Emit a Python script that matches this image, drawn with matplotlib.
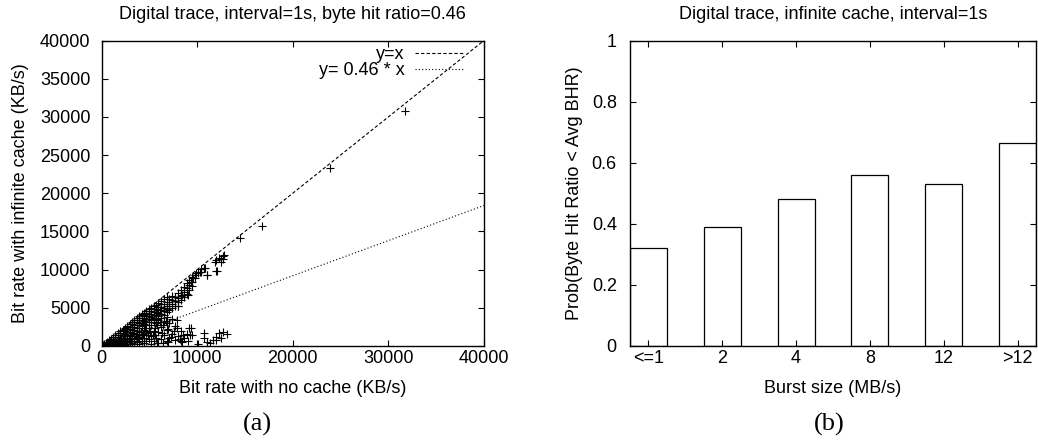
import matplotlib
matplotlib.use("Agg")
import matplotlib.pyplot as plt
import numpy as np

plt.rcParams['font.family'] = ['Liberation Sans', 'DejaVu Sans']

# ---------------- data: (a) scatter ----------------
no_cache_kbs = [
    150, 150,
    300, 300, 300,
    450, 450, 450,
    600, 600, 600, 600,
    800, 800, 800, 800,
    1000, 1000, 1000, 1000, 1000,
    1200, 1200, 1200, 1200, 1200,
    1450, 1450, 1450, 1450, 1450, 1450,
    1700, 1700, 1700, 1700, 1700, 1700,
    1950, 1950, 1950, 1950, 1950, 1950, 1950,
    2200, 2200, 2200, 2200, 2200, 2200, 2200,
    2450, 2450, 2450, 2450, 2450, 2450, 2450, 2450,
    2700, 2700, 2700, 2700, 2700, 2700, 2700, 2700,
    2950, 2950, 2950, 2950, 2950, 2950, 2950, 2950,
    3200, 3200, 3200, 3200, 3200, 3200, 3200, 3200,
    3450, 3450, 3450, 3450, 3450, 3450, 3450, 3450,
    3700, 3700, 3700, 3700, 3700, 3700, 3700, 3700,
    3950, 3950, 3950, 3950, 3950, 3950, 3950, 3950, 3950,
    4200, 4200, 4200, 4200, 4200, 4200, 4200, 4200,
    4450, 4450, 4450, 4450, 4450, 4450, 4450, 4450,
    4700, 4700, 4700, 4700, 4700, 4700, 4700, 4700,
    4950, 4950, 4950, 4950, 4950, 4950, 4950, 4950,
    5200, 5200, 5200, 5200, 5200, 5200, 5200, 5200,
    5450, 5450, 5450, 5450, 5450, 5450, 5450, 5450,
    5700, 5700, 5700, 5700, 5700, 5700, 5700,
    5950, 5950, 5950, 5950, 5950, 5950, 5950, 5950,
    6200, 6200, 6200, 6200, 6200, 6200, 6200, 6200,
    6500, 6500, 6500, 6500, 6500, 6500, 6500,
    6800, 6800, 6800, 6800, 6800, 6800, 6800, 6800,
    7100, 7100, 7100, 7100, 7100, 7100,
    7400, 7400, 7400, 7400, 7400, 7400,
    7700, 7700, 7700, 7700, 7700,
    8000, 8000, 8000, 8000, 8000,
    8300, 8300, 8300, 8300, 8300,
    8600, 8600, 8600, 8600,
    8900, 8900, 8900, 8900,
    9200, 9200, 9200, 9200,
    9500, 9500, 9500, 9500,
    9800, 9800,
    10100, 10100,
    10400, 10400,
    10700, 10700, 10700,
    11000, 11000,
    11300,
    11700,
    12000, 12000, 12000, 12000,
    12300, 12300,
    12500, 12500,
    12700, 12700, 12700,
    13100,
    14460, 16800, 23900, 31700,
    1100, 1300, 1600, 1850, 2100, 2350, 2600, 2850, 3100, 3350,
    3600, 3850, 4100, 4350, 4600, 4850, 5100, 5350, 5600, 5850,
    6100, 6400, 6700, 7000, 7300, 7600, 7900, 8200, 8500, 9000,
    9400, 9300, 5060, 5590, 6280, 6970, 6450, 5760, 8370, 7850,
    6800, 8020, 9060, 6100, 5760, 8370, 9410, 9580, 9930, 10280,
    10800, 11050, 12060, 11870, 12800, 12500,
]
inf_cache_kbs = [
    60, 140,
    40, 150, 280,
    80, 250, 420,
    50, 200, 380, 570,
    100, 320, 550, 760,
    60, 250, 500, 720, 950,
    150, 400, 700, 950, 1150,
    80, 350, 650, 950, 1200, 1400,
    200, 500, 850, 1150, 1450, 1650,
    100, 420, 750, 1100, 1400, 1650, 1900,
    250, 600, 950, 1300, 1650, 1950, 2150,
    150, 500, 900, 1250, 1600, 1950, 2250, 2400,
    300, 700, 1100, 1500, 1850, 2200, 2500, 2650,
    200, 650, 1000, 1400, 1800, 2200, 2550, 2900,
    450, 900, 1350, 1750, 2150, 2500, 2850, 3150,
    250, 700, 1600, 2050, 2450, 2800, 3100, 3400,
    550, 1100, 1900, 2350, 2750, 3100, 3450, 3650,
    300, 900, 1500, 2300, 2700, 3050, 3400, 3700, 3900,
    700, 1400, 2600, 3000, 3350, 3700, 4000, 4150,
    400, 1100, 2100, 2900, 3300, 3650, 4000, 4350,
    600, 1700, 2700, 3200, 3600, 3950, 4300, 4600,
    900, 2400, 3100, 3500, 3900, 4250, 4600, 4850,
    300, 1300, 2800, 3400, 3800, 4200, 4550, 5000,
    700, 2000, 3200, 3700, 4100, 4500, 4900, 5250,
    1100, 3000, 3600, 4000, 4450, 4850, 5400,
    400, 1800, 3400, 3900, 4300, 4750, 5150, 5650,
    900, 2500, 3700, 4200, 4650, 5050, 5500, 5900,
    1400, 3200, 4100, 4600, 5000, 5450, 6100,
    600, 2100, 3800, 4400, 4900, 5300, 5800, 6400,
    1000, 3000, 4700, 5200, 5700, 6200,
    1600, 3600, 5000, 5500, 6000, 6600,
    800, 2600, 5300, 5900, 6400,
    1300, 5200, 5700, 6300, 6900,
    600, 2000, 6000, 6600, 7300,
    1000, 6400, 7100, 7700,
    1600, 6800, 7600, 8200,
    2400, 7300, 8000, 8600,
    1400, 7800, 8400, 9000,
    9300, 8900,
    260, 9600,
    10100, 9700,
    1000, 1660, 10150,
    560, 9240,
    350,
    780,
    1220, 780, 9800, 11200,
    1660, 11500,
    1000, 11000,
    1870, 11400, 11800,
    1570,
    14155, 15700, 23300, 30800,
    180, 550, 300, 650, 400, 800, 550, 900, 650, 1100,
    1300, 1150, 1800, 1600, 2300, 1400, 2000, 1500, 2400, 2700,
    3100, 2800, 3300, 2200, 1200, 1900, 2300, 900, 1500, 600,
    2390, 1440, 1870, 1440, 1660, 560, 350, 430, 560, 3400,
    2960, 5230, 6665, 4700, 4480, 6670, 8400, 8850, 9580, 9710,
    10150, 9240, 9800, 11000, 11900, 11400,
]
avg_byte_hit_ratio = 0.46
identity_slope = 1.0
xticks_a = [0, 10000, 20000, 30000, 40000]
yticks_a = [0, 5000, 10000, 15000, 20000, 25000, 30000, 35000, 40000]

# ---------------- data: (b) bars ----------------
burst_sizes = ['<=1', '2', '4', '8', '12', '>12']
prob_below_avg = [0.32, 0.39, 0.48, 0.56, 0.53, 0.665]
yticks_b = [0, 0.2, 0.4, 0.6, 0.8, 1.0]
ytick_labels_b = ['0', '0.2', '0.4', '0.6', '0.8', '1']

FS = 13
fig = plt.figure(figsize=(10.38, 4.46), dpi=100)
ax1 = fig.add_axes([101.5/1038, 1-346/446, (484-101.5)/1038, (346-40.5)/446])
ax2 = fig.add_axes([630/1038, 1-346/446, (1036-630)/1038, (346-40.5)/446])

for ax in (ax1, ax2):
    for s in ax.spines.values():
        s.set_linewidth(1.0)
        s.set_color('black')
    ax.tick_params(direction='in', top=True, right=True, length=4, width=0.8,
                   labelsize=FS, colors='black')
    ax.tick_params(axis='x', pad=3)

# (a)
ax1.plot(no_cache_kbs, inf_cache_kbs, linestyle='none', marker='+', color='black',
         markersize=6, markeredgewidth=0.8, zorder=3)
xl = np.array([0, 40000])
ax1.plot(xl, identity_slope * xl, color='black', lw=0.8, linestyle=(0, (3, 2)), label='y=x')
ax1.plot(xl, avg_byte_hit_ratio * xl, color='black', lw=0.8, linestyle=(0, (1, 2)),
         label='y= 0.46 * x')
ax1.set_xlim(0, 40000)
ax1.set_ylim(0, 40000)
ax1.set_xticks(xticks_a)
ax1.set_yticks(yticks_a)
ax1.set_xticklabels([str(v) for v in xticks_a])
ax1.set_yticklabels([str(v) for v in yticks_a])
ax1.tick_params(axis='y', pad=8)
ax1.set_xlabel('Bit rate with no cache (KB/s)', fontsize=FS, labelpad=9)
ax1.set_ylabel('Bit rate with infinite cache (KB/s)', fontsize=FS, labelpad=8)
ax1.set_title('Digital trace, interval=1s, byte hit ratio=0.46', fontsize=FS, pad=15.5)
ax1.legend(loc='upper right', bbox_to_anchor=(1 - 21/382.5, 1 - 5.5/305.5),
           frameon=False, fontsize=FS, markerfirst=False, handlelength=2.67,
           handletextpad=0.55, labelspacing=-0.05, borderpad=0, borderaxespad=0)

# (b)
xpos = np.arange(len(burst_sizes))
ax2.bar(xpos, prob_below_avg, width=0.5, facecolor='white', edgecolor='black', linewidth=0.9)
ax2.set_xlim(-0.25, 5.25)
ax2.set_ylim(0, 1)
ax2.set_xticks(xpos)
ax2.set_xticklabels(burst_sizes)
ax2.set_yticks(yticks_b)
ax2.set_yticklabels(ytick_labels_b)
ax2.tick_params(axis='y', pad=9.5)
ax2.set_xlabel('Burst size (MB/s)', fontsize=FS, labelpad=9)
ax2.set_ylabel('Prob(Byte Hit Ratio < Avg BHR)', fontsize=FS, labelpad=6)
ax2.set_title('Digital trace, infinite cache, interval=1s', fontsize=FS, pad=15.5)

fig.text(257/1038, 1-424/446, '(a)', ha='center', va='center', fontsize=19,
         family=['Liberation Serif', 'DejaVu Serif'])
fig.text(829/1038, 1-424/446, '(b)', ha='center', va='center', fontsize=19,
         family=['Liberation Serif', 'DejaVu Serif'])

fig.savefig('out.png', dpi=100)
